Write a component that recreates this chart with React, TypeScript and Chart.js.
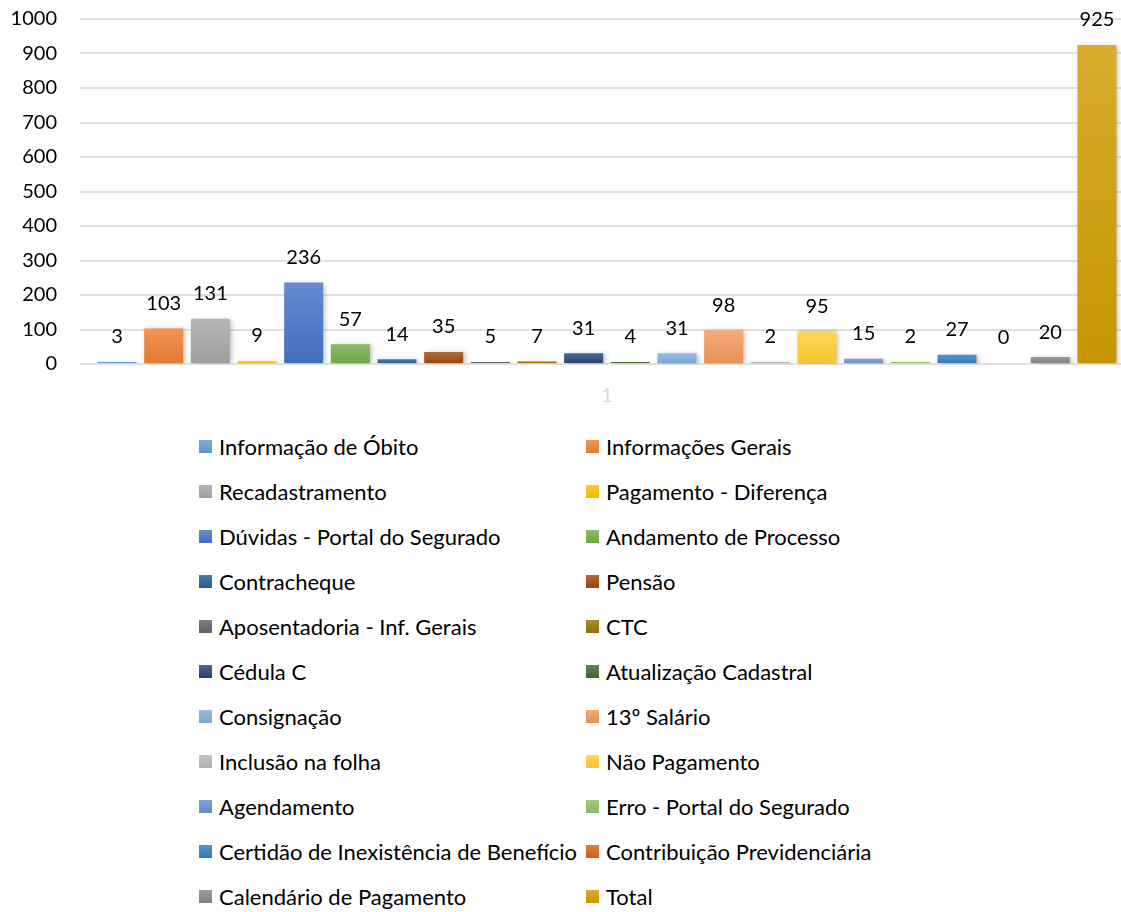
import React, { useEffect, useRef } from "react";
import { Chart, registerables } from "chart.js";

Chart.register(...registerables);

const categories = ["1"];

const seriesNames = [
  "Informação de Óbito",
  "Informações Gerais",
  "Recadastramento",
  "Pagamento - Diferença",
  "Dúvidas - Portal do Segurado",
  "Andamento de Processo",
  "Contracheque",
  "Pensão",
  "Aposentadoria - Inf. Gerais",
  "CTC",
  "Cédula C",
  "Atualização Cadastral",
  "Consignação",
  "13º Salário",
  "Inclusão na folha",
  "Não Pagamento",
  "Agendamento",
  "Erro - Portal do Segurado",
  "Certidão de Inexistência de Benefício",
  "Contribuição Previdenciária",
  "Calendário de Pagamento",
  "Total",
];

const seriesValues = [3, 103, 131, 9, 236, 57, 14, 35, 5, 7, 31, 4, 31, 98, 2, 95, 15, 2, 27, 0, 20, 925];

const seriesColors = [
  "#5B9BD5", "#ED7D31", "#A5A5A5", "#FFC000", "#4472C4", "#70AD47",
  "#255E91", "#9E480E", "#636363", "#997300", "#264478", "#43682B",
  "#7CAFDD", "#F1975A", "#B7B7B7", "#FFCD33", "#698ED0", "#8CC168",
  "#327DC2", "#D86015", "#848484", "#CF9B00",
];

const yTickValues = [0, 100, 200, 300, 400, 500, 600, 700, 800, 900, 1000];

function hexToRgb(h: string) {
  const n = parseInt(h.slice(1), 16);
  return [(n >> 16) & 255, (n >> 8) & 255, n & 255];
}
function lighten(h: string, t: number) {
  const [r, g, b] = hexToRgb(h);
  return `rgb(${Math.round(r + (255 - r) * t)},${Math.round(g + (255 - g) * t)},${Math.round(b + (255 - b) * t)})`;
}
function darken(h: string, t: number) {
  const [r, g, b] = hexToRgb(h);
  return `rgb(${Math.round(r * (1 - t))},${Math.round(g * (1 - t))},${Math.round(b * (1 - t))})`;
}

const FONT = "Lato";
const CANVAS_W = 1134;
const CANVAS_H = 420;

const barShadow = {
  id: "barShadow",
  beforeDatasetsDraw(chart: any) {
    const c = chart.ctx;
    c.save();
    c.shadowColor = "rgba(0,0,0,0.28)";
    c.shadowBlur = 5;
    c.shadowOffsetX = 2;
    c.shadowOffsetY = 1;
  },
  afterDatasetsDraw(chart: any) {
    chart.ctx.restore();
  },
};

const valueLabels = {
  id: "valueLabels",
  afterDatasetsDraw(chart: any) {
    const c = chart.ctx;
    c.save();
    c.font = `20px ${FONT}`;
    c.fillStyle = "#000";
    c.textAlign = "center";
    c.textBaseline = "middle";
    const y0 = chart.scales.y.getPixelForValue(0);
    chart.data.datasets.forEach((ds: any, i: number) => {
      const meta = chart.getDatasetMeta(i);
      meta.data.forEach((el: any, j: number) => {
        const top = Math.min(el.y, y0 - 1);
        c.fillText(String(ds.data[j]), el.x, top - 25);
      });
    });
    c.restore();
  },
};

function ChartCanvas() {
  const ref = useRef<HTMLCanvasElement | null>(null);
  useEffect(() => {
    if (!ref.current) return;
    const datasets = seriesNames.map((name, i) => {
      const base = seriesColors[i];
      const light = lighten(base, 0.18);
      const dark = darken(base, 0.04);
      return {
        label: name,
        data: [seriesValues[i]],
        borderWidth: 0,
        minBarLength: seriesValues[i] > 0 ? 2 : 0,
        backgroundColor: (c: any) => {
          const chart = c.chart;
          const y = chart.scales && chart.scales.y;
          if (!y || c.raw == null) return base;
          const top = y.getPixelForValue(c.raw);
          const bottom = y.getPixelForValue(0);
          if (!isFinite(top) || bottom - top < 3) return base;
          const g = chart.ctx.createLinearGradient(0, top, 0, bottom);
          g.addColorStop(0, light);
          g.addColorStop(1, dark);
          return g;
        },
      };
    });
    const chart = new Chart(ref.current, {
      type: "bar",
      data: { labels: categories, datasets },
      options: {
        responsive: false,
        animation: false,
        events: [],
        layout: { padding: { top: 19, left: 0, right: 0, bottom: 0 } },
        categoryPercentage: 0.974,
        barPercentage: 0.836,
        plugins: {
          legend: { display: false },
          tooltip: { enabled: false },
        },
        scales: {
          x: {
            grid: { display: false, drawTicks: false },
            border: { display: false },
            ticks: { color: "#d9d9d9", font: { family: FONT, size: 20 }, padding: 20 },
            afterFit: (s: any) => {
              s.height = 56;
              s.paddingLeft = 0;
              s.paddingRight = 0;
            },
          },
          y: {
            min: yTickValues[0],
            max: yTickValues[yTickValues.length - 1],
            ticks: {
              stepSize: 100,
              color: "#000",
              font: { family: FONT, size: 20 },
              padding: 23,
              callback: (v: any) => String(v),
            },
            grid: { color: "#e0e0e0", lineWidth: 2, drawTicks: false },
            border: { display: false },
            afterFit: (s: any) => {
              s.width = 80;
              s.paddingTop = 0;
              s.paddingBottom = 0;
            },
          },
        },
      } as any,
      plugins: [barShadow, valueLabels],
    });
    return () => chart.destroy();
  }, []);
  return (
    <canvas
      ref={ref}
      width={CANVAS_W}
      height={CANVAS_H}
      style={{ position: "absolute", left: 0, top: 0, width: CANVAS_W, height: CANVAS_H }}
    />
  );
}

function Legend() {
  return (
    <>
      {seriesNames.map((name, i) => {
        const row = Math.floor(i / 2);
        const col = i % 2;
        const base = seriesColors[i];
        return (
          <div
            key={name}
            style={{
              position: "absolute",
              left: col === 0 ? 199 : 586,
              top: 424 + row * 45,
              height: 45,
              display: "flex",
              alignItems: "center",
              whiteSpace: "nowrap",
              fontFamily: FONT,
              fontSize: 22,
              color: "#000",
            }}
          >
            <span
              style={{
                display: "inline-block",
                width: 13,
                height: 13,
                marginRight: 7,
                background: `linear-gradient(${lighten(base, 0.18)}, ${darken(base, 0.04)})`,
              }}
            />
            <span>{name}</span>
          </div>
        );
      })}
    </>
  );
}

export default function App() {
  return (
    <div
      style={{
        position: "absolute",
        left: 0,
        top: 0,
        width: 1121,
        height: 912,
        overflow: "hidden",
        background: "#fff",
      }}
    >
      <ChartCanvas />
      <Legend />
    </div>
  );
}
